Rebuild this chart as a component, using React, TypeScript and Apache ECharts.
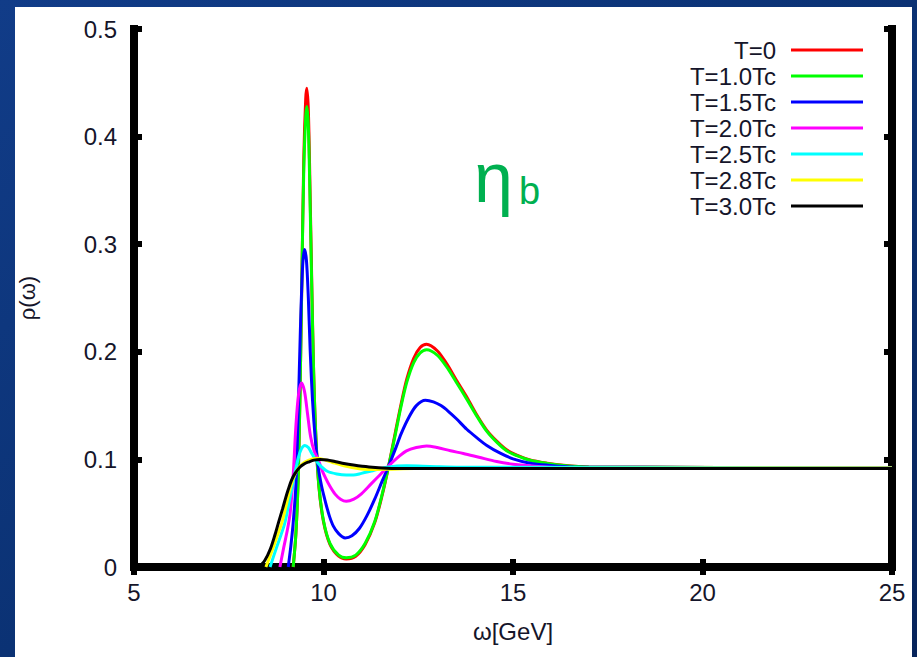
import React, { useEffect, useRef } from "react";
import * as echarts from "echarts";

const seriesNames = ["T=0", "T=1.0Tc", "T=1.5Tc", "T=2.0Tc", "T=2.5Tc", "T=2.8Tc", "T=3.0Tc"];
const seriesColors = ["#ff0000", "#00ff00", "#0000ff", "#ff00ff", "#00ffff", "#ffff00", "#000000"];

const xTicks = [5, 10, 15, 20, 25];
const yTicks = [0, 0.1, 0.2, 0.3, 0.4, 0.5];

const t0: [number, number][] = [
  [9.2, 0], [9.27, 0.03], [9.33, 0.08], [9.38, 0.16], [9.43, 0.27], [9.48, 0.38], [9.53, 0.435],
  [9.56, 0.445], [9.6, 0.425], [9.64, 0.36], [9.69, 0.265], [9.74, 0.182], [9.8, 0.12],
  [9.88, 0.074], [10.0, 0.042], [10.17, 0.021], [10.4, 0.01], [10.6, 0.0075], [10.85, 0.01],
  [11.1, 0.021], [11.35, 0.041], [11.55, 0.067], [11.72, 0.094], [11.9, 0.126], [12.05, 0.152],
  [12.2, 0.175], [12.38, 0.194], [12.55, 0.204], [12.72, 0.207], [13.0, 0.201], [13.25, 0.189],
  [13.5, 0.174], [13.78, 0.158], [14.05, 0.141], [14.31, 0.127], [14.57, 0.117], [14.83, 0.109],
  [15.1, 0.104], [15.45, 0.0995], [15.9, 0.0965], [16.33, 0.0945], [17.0, 0.093], [25, 0.092],
];

const t10: [number, number][] = [
  [9.2, 0], [9.27, 0.03], [9.33, 0.08], [9.38, 0.16], [9.43, 0.27], [9.48, 0.37], [9.53, 0.418],
  [9.56, 0.428], [9.6, 0.41], [9.64, 0.35], [9.69, 0.26], [9.74, 0.18], [9.8, 0.12],
  [9.88, 0.075], [10.0, 0.043], [10.17, 0.022], [10.4, 0.011], [10.6, 0.0085], [10.85, 0.011],
  [11.1, 0.022], [11.35, 0.042], [11.55, 0.068], [11.72, 0.094], [11.9, 0.124], [12.05, 0.15],
  [12.2, 0.172], [12.38, 0.19], [12.55, 0.199], [12.72, 0.202], [13.0, 0.197], [13.25, 0.186],
  [13.5, 0.172], [13.78, 0.156], [14.05, 0.14], [14.31, 0.126], [14.57, 0.116], [14.83, 0.108],
  [15.1, 0.1035], [15.45, 0.0992], [15.9, 0.0963], [16.33, 0.0944], [17.0, 0.093], [25, 0.092],
];

const t15: [number, number][] = [
  [9.07, 0], [9.14, 0.02], [9.2, 0.041], [9.27, 0.075], [9.33, 0.14], [9.39, 0.22], [9.45, 0.28],
  [9.5, 0.295], [9.55, 0.285], [9.6, 0.25], [9.65, 0.2], [9.71, 0.155], [9.78, 0.12],
  [9.86, 0.093], [9.95, 0.075], [10.04, 0.062], [10.15, 0.048], [10.26, 0.038], [10.4, 0.031],
  [10.57, 0.027], [10.75, 0.029], [10.95, 0.036], [11.15, 0.048], [11.35, 0.063], [11.55, 0.08],
  [11.72, 0.094], [11.9, 0.11], [12.05, 0.124], [12.25, 0.139], [12.45, 0.15], [12.69, 0.155],
  [12.9, 0.1535], [13.1, 0.15], [13.3, 0.1445], [13.5, 0.138], [13.78, 0.128], [14.05, 0.12],
  [14.31, 0.113], [14.65, 0.106], [15.0, 0.1005], [15.45, 0.0965], [15.89, 0.0947], [16.6, 0.093],
  [25, 0.092],
];

const t20: [number, number][] = [
  [8.85, 0], [8.95, 0.018], [9.05, 0.035], [9.12, 0.05], [9.2, 0.085], [9.27, 0.13], [9.34, 0.16],
  [9.42, 0.171], [9.5, 0.163], [9.58, 0.142], [9.66, 0.121], [9.76, 0.107], [9.86, 0.1],
  [9.95, 0.091], [10.05, 0.083], [10.17, 0.075], [10.3, 0.068], [10.45, 0.063], [10.6, 0.061],
  [10.8, 0.063], [11.0, 0.068], [11.25, 0.077], [11.5, 0.086], [11.72, 0.094], [12.0, 0.103],
  [12.19, 0.108], [12.45, 0.111], [12.72, 0.1125], [13.0, 0.111], [13.35, 0.108], [13.69, 0.1055],
  [14.1, 0.102], [14.57, 0.098], [15.0, 0.0955], [15.45, 0.094], [16.2, 0.0925], [25, 0.092],
];

const t25: [number, number][] = [
  [8.59, 0], [8.75, 0.017], [8.88, 0.03], [8.98, 0.041], [9.08, 0.058], [9.16, 0.072],
  [9.25, 0.088], [9.34, 0.102], [9.42, 0.11], [9.51, 0.113], [9.6, 0.111], [9.7, 0.105],
  [9.8, 0.099], [9.92, 0.094], [10.1, 0.089], [10.35, 0.0865], [10.6, 0.0855], [10.79, 0.0855],
  [11.0, 0.087], [11.3, 0.0895], [11.72, 0.093], [12.2, 0.094], [12.8, 0.0935], [13.6, 0.0928],
  [25, 0.092],
];

const t28: [number, number][] = [
  [8.48, 0], [8.62, 0.013], [8.76, 0.027], [8.9, 0.041], [9.0, 0.055], [9.1, 0.07], [9.2, 0.082],
  [9.32, 0.091], [9.45, 0.096], [9.6, 0.099], [9.83, 0.101], [10.05, 0.0995], [10.3, 0.0965],
  [10.6, 0.0935], [10.9, 0.0915], [11.23, 0.0905], [11.7, 0.0908], [12.4, 0.0915], [25, 0.092],
];

const t30: [number, number][] = [
  [8.3, 0], [8.45, 0.006], [8.6, 0.017], [8.72, 0.03], [8.81, 0.041], [8.92, 0.054], [9.0, 0.064],
  [9.07, 0.072], [9.16, 0.081], [9.25, 0.087], [9.38, 0.093], [9.5, 0.096], [9.6, 0.0975],
  [9.75, 0.0993], [9.91, 0.1], [10.1, 0.0995], [10.3, 0.098], [10.5, 0.0965], [10.79, 0.0948],
  [11.2, 0.093], [11.67, 0.0918], [12.3, 0.0915], [25, 0.0915],
];

const seriesData = [t0, t10, t15, t20, t25, t28, t30];

const FONT = "'Liberation Sans', Arial, sans-serif";
const TEXT = "#15152a";

export default function App() {
  const ref = useRef<HTMLDivElement>(null);

  useEffect(() => {
    if (!ref.current) return;
    const chart = echarts.init(ref.current, undefined, { renderer: "svg" });

    const axisLine = { show: true, lineStyle: { color: "#000", width: 8, cap: "square" } };
    const axisTick = { show: true, inside: true, length: 8, lineStyle: { color: "#000", width: 6 } };

    chart.setOption({
      animation: false,
      backgroundColor: {
        type: "linear", x: 0, y: 0, x2: 1, y2: 1,
        colorStops: [
          { offset: 0, color: "#113c88" },
          { offset: 0.5, color: "#0b3274" },
          { offset: 1, color: "#07245b" },
        ],
      },
      graphic: [
        { type: "rect", z: -100, shape: { x: 15, y: 7, width: 897, height: 650 }, style: { fill: "#ffffff" } },
        {
          type: "text", z: 100, x: 474, y: 178,
          style: { text: "η", font: `70px ${FONT}`, fill: "#00b050", textVerticalAlign: "middle" },
        },
        {
          type: "text", z: 100, x: 519, y: 191,
          style: { text: "b", font: `38px ${FONT}`, fill: "#00b050", textVerticalAlign: "middle" },
        },
      ],
      grid: { left: 134, right: 25, top: 29, bottom: 90, containLabel: false },
      legend: {
        data: seriesNames,
        orient: "vertical",
        align: "right",
        right: 54,
        top: 38,
        itemWidth: 72,
        itemHeight: 3,
        itemGap: 2,
        padding: 0,
        icon: "rect",
        selectedMode: false,
        formatter: "{a|{name}}",
        textStyle: {
          rich: {
            a: {
              width: 100, align: "right", fontSize: 24, lineHeight: 24,
              padding: [0, 10, 0, 0], color: TEXT, fontFamily: FONT,
            },
          },
        },
      },
      xAxis: [
        {
          type: "value", min: xTicks[0], max: xTicks[xTicks.length - 1], interval: 5,
          position: "bottom",
          name: "ω[GeV]", nameLocation: "middle", nameGap: 52,
          nameTextStyle: { fontSize: 24, color: TEXT, fontFamily: FONT },
          axisLine, axisTick,
          axisLabel: { fontSize: 24, color: TEXT, fontFamily: FONT, margin: 13 },
          splitLine: { show: false },
        },
        {
          type: "value", min: xTicks[0], max: xTicks[xTicks.length - 1], interval: 5,
          position: "top", axisLine, axisTick,
          axisLabel: { show: false }, splitLine: { show: false },
        },
      ],
      yAxis: [
        {
          type: "value", min: yTicks[0], max: yTicks[yTicks.length - 1], interval: 0.1,
          position: "left",
          name: "ρ(ω)", nameLocation: "middle", nameGap: 96,
          nameTextStyle: { fontSize: 22, color: TEXT, fontFamily: FONT },
          axisLine, axisTick,
          axisLabel: {
            fontSize: 24, color: TEXT, fontFamily: FONT, margin: 17,
            formatter: (v: number) => (v === 0 ? "0" : v.toFixed(1)),
          },
          splitLine: { show: false },
        },
        {
          type: "value", min: yTicks[0], max: yTicks[yTicks.length - 1], interval: 0.1,
          position: "right", axisLine, axisTick,
          axisLabel: { show: false }, splitLine: { show: false },
        },
      ],
      series: seriesNames.map((name, i) => ({
        name,
        type: "line",
        xAxisIndex: 0,
        yAxisIndex: 0,
        data: seriesData[i],
        smooth: 0.3,
        showSymbol: false,
        symbol: "none",
        color: seriesColors[i],
        lineStyle: { color: seriesColors[i], width: 3 },
        emphasis: { disabled: true },
        z: 3,
      })),
    });

    return () => chart.dispose();
  }, []);

  return (
    <div
      ref={ref}
      style={{ position: "fixed", left: 0, top: 0, width: 917, height: 657 }}
    />
  );
}
